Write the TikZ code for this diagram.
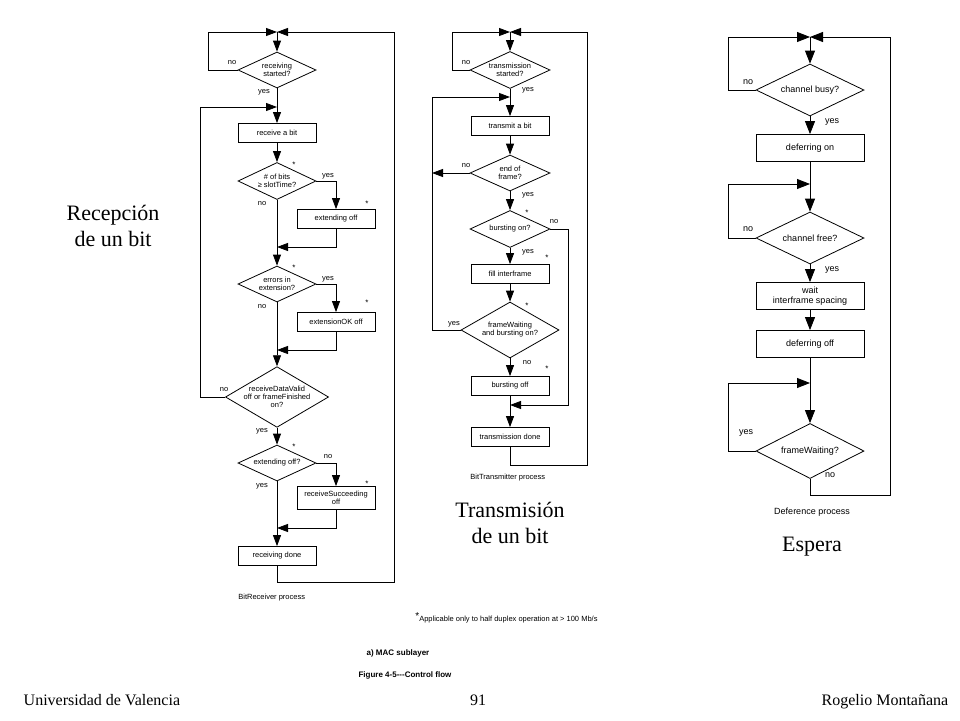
\documentclass[tikz,border=0pt]{standalone}
\usepackage{fontspec}
\setmainfont{Liberation Serif}
\newfontfamily\sans{Liberation Sans}
\usetikzlibrary{shapes.geometric,arrows.meta}
\begin{document}
\begin{tikzpicture}[x=1pt,y=-1pt,line width=0.8pt,
  arr/.style={-{Triangle[length=11pt,width=8pt]}},
  arr3/.style={-{Triangle[length=13pt,width=10pt]}},
  box/.style={draw,rectangle,minimum width=78pt,minimum height=19pt,inner sep=1pt,font=\sans\fontsize{7.5}{8}\selectfont,align=center},
  dia/.style={draw,diamond,inner sep=0pt,aspect=2.2,font=\sans\fontsize{7.5}{8}\selectfont,align=center},
  lab/.style={font=\sans\fontsize{7.5}{8}\selectfont,inner sep=0pt},
  star/.style={font=\sans\fontsize{8}{8}\selectfont,inner sep=0pt},
  box3/.style={box,minimum width=108pt,minimum height=27pt,font=\sans\fontsize{9}{10}\selectfont},
  dia3/.style={draw,diamond,inner sep=0pt,minimum width=108pt,minimum height=52pt,aspect=2.1,font=\sans\fontsize{9}{10}\selectfont},
  lab3/.style={font=\sans\fontsize{9}{10}\selectfont,inner sep=0pt},
  big/.style={font=\fontsize{22}{26}\selectfont,align=center}]
\useasboundingbox (0,0) rectangle (960,720);
% ---------- chart 1 ----------
\coordinate (a1) at (277,32);
\coordinate (a2) at (277,107);
\coordinate (a3) at (277,247);
\coordinate (a4) at (277,350);
\coordinate (a5) at (277,528);
\node[dia,minimum width=78pt,minimum height=36pt] (ad1) at (277,70) {receiving\\started?};
\node[box] (ar1) at (277,133) {receive a bit};
\node[dia,minimum width=78pt,minimum height=37pt] (ad2) at (277,181) {\# of bits\\≥ slotTime?};
\node[box] (ab2) at (336,219) {extending off};
\node[dia,minimum width=78pt,minimum height=36pt] (ad3) at (277,284) {errors in\\extension?};
\node[box] (ab3) at (336,322) {extensionOK off};
\node[dia,minimum width=95pt,minimum height=55pt,aspect=1.7] (ad4) at (277,397) {receiveDataValid\\off or frameFinished\\on?};
\node[dia,minimum width=78pt,minimum height=36pt] (ad5) at (277,463) {extending off?};
\node[box,minimum height=23pt,inner sep=0pt] (ab5) at (336,498) {receiveSucceeding\\off};
\node[box] (ar6) at (277,556) {receiving done};
\draw[arr] (ad1.west) -| (208,32) -- (a1);
\draw[arr] (a1) -- (ad1.north);
\draw (ad1.south) -- (a2);
\draw[arr] (a2) -- (ar1.north);
\draw[arr] (ad4.west) -| (200,107) -- (a2);
\draw[arr] (ar1.south) -- (ad2.north);
\draw[arr] (ad2.east) -| (ab2.north);
\draw (ad2.south) -- (a3);
\draw[arr] (ab2.south) |- (a3);
\draw[arr] (a3) -- (ad3.north);
\draw[arr] (ad3.east) -| (ab3.north);
\draw (ad3.south) -- (a4);
\draw[arr] (ab3.south) |- (a4);
\draw[arr] (a4) -- (ad4.north);
\draw[arr] (ad4.south) -- (ad5.north);
\draw[arr] (ad5.east) -| (ab5.north);
\draw (ad5.south) -- (a5);
\draw[arr] (ab5.south) |- (a5);
\draw[arr] (a5) -- (ar6.north);
\draw[arr] (ar6.south) -- (277,582) -| (394,32) -- (a1);
\node[lab] (al1) at (232,63) {no};
\node[lab] (al2) at (264,92) {yes};
\node[lab] (al3) at (328,176) {yes};
\node[lab] (al4) at (262,204) {no};
\node[lab] (al5) at (328,279) {yes};
\node[lab] (al6) at (262,307) {no};
\node[lab] (al7) at (224,390) {no};
\node[lab] (al8) at (262,431) {yes};
\node[lab] (al9) at (328,457) {no};
\node[lab] (al10) at (262,486) {yes};
\node[star] (as1) at (294,165) {*};
\node[star] (as2) at (367,204) {*};
\node[star] (as3) at (294,268) {*};
\node[star] (as4) at (367,303) {*};
\node[star] (as5) at (294,447) {*};
\node[star] (as6) at (367,484) {*};
\node[lab,anchor=west] (acap) at (238,598) {BitReceiver process};
% ---------- chart 2 ----------
\coordinate (b1) at (510,32);
\coordinate (b2) at (510,97);
\coordinate (b3) at (510,405);
\node[dia,minimum width=80pt,minimum height=37pt] (bd1) at (510,70) {transmission\\started?};
\node[box] (br1) at (510,126) {transmit a bit};
\node[dia,minimum width=80pt,minimum height=36pt] (bd2) at (510,173) {end of\\frame?};
\node[dia,minimum width=80pt,minimum height=37pt] (bd3) at (510,229) {bursting on?};
\node[box] (br2) at (510,274) {fill interframe};
\node[dia,minimum width=98pt,minimum height=56pt,aspect=1.9] (bd4) at (510,330) {frameWaiting\\and bursting on?};
\node[box] (br3) at (510,386) {bursting off};
\node[box] (br4) at (510,437) {transmission done};
\draw[arr] (bd1.west) -| (452,32) -- (b1);
\draw[arr] (b1) -- (bd1.north);
\draw (bd1.south) -- (b2);
\draw[arr] (b2) -- (br1.north);
\draw[arr] (br1.south) -- (bd2.north);
\draw[arr] (bd2.west) -- (432,173);
\draw[arr] (bd2.south) -- (bd3.north);
\draw[arr] (bd3.south) -- (br2.north);
\draw[arr] (br2.south) -- (bd4.north);
\draw[arr] (bd4.west) -| (432,97) -- (b2);
\draw[arr] (bd4.south) -- (br3.north);
\draw[arr] (bd3.east) -| (568,405) -- (b3);
\draw (br3.south) -- (b3);
\draw[arr] (b3) -- (br4.north);
\draw[arr] (br4.south) -- (510,465) -| (587,32) -- (b1);
\node[lab] (bl1) at (466,63) {no};
\node[lab] (bl2) at (528,90) {yes};
\node[lab] (bl3) at (466,166) {no};
\node[lab] (bl4) at (528,195) {yes};
\node[lab] (bl5) at (554,222) {no};
\node[lab] (bl6) at (528,252) {yes};
\node[lab] (bl7) at (454,324) {yes};
\node[lab] (bl8) at (527,363) {no};
\node[star] (bs1) at (527,213) {*};
\node[star] (bs2) at (547,258) {*};
\node[star] (bs3) at (527,306) {*};
\node[star] (bs4) at (547,369) {*};
\node[lab,anchor=west] (bcap) at (470,478) {BitTransmitter process};
% ---------- chart 3 ----------
\coordinate (c1) at (810,37);
\coordinate (c2) at (810,184);
\coordinate (c3) at (810,383);
\node[dia3] (cd1) at (810,90) {channel busy?};
\node[box3] (cr1) at (810,148) {deferring on};
\node[dia3] (cd2) at (810,238) {channel free?};
\node[box3,inner sep=0pt] (cr2) at (810,296) {wait\\interframe spacing};
\node[box3] (cr3) at (810,344) {deferring off};
\node[dia3,minimum height=55pt] (cd3) at (810,451) {frameWaiting?};
\draw[arr3] (cd1.west) -| (728,37) -- (c1);
\draw[arr3] (c1) -- (cd1.north);
\draw[arr3] (cd1.south) -- (cr1.north);
\draw (cr1.south) -- (c2);
\draw[arr3] (c2) -- (cd2.north);
\draw[arr3] (cd2.west) -| (728,184) -- (c2);
\draw[arr3] (cd2.south) -- (cr2.north);
\draw[arr3] (cr2.south) -- (cr3.north);
\draw (cr3.south) -- (c3);
\draw[arr3] (c3) -- (cd3.north);
\draw[arr3] (cd3.west) -| (728,383) -- (c3);
\draw[arr3] (cd3.south) -- (810,495) -| (890,37) -- (c1);
\node[lab3] (cl1) at (748,82) {no};
\node[lab3] (cl2) at (832,122) {yes};
\node[lab3] (cl3) at (748,229) {no};
\node[lab3] (cl4) at (832,270) {yes};
\node[lab3] (cl5) at (746,433) {yes};
\node[lab3] (cl6) at (830,475) {no};
\node[lab3] (ccap) at (812,512) {Deference process};
% ---------- texts ----------
\node[big] (t1) at (113,226) {Recepción\\de un bit};
\node[big] (t2) at (510,523) {Transmisión\\de un bit};
\node[big] (t3) at (812,547) {Espera};
\node[lab,anchor=west] (fn) at (415,618) {\raisebox{2pt}{\fontsize{10}{10}\selectfont*}Applicable only to half duplex operation at > 100 Mb/s};
\node[font=\sans\bfseries\fontsize{8}{9}\selectfont] (sub) at (398,653) {a) MAC sublayer};
\node[font=\sans\bfseries\fontsize{8}{9}\selectfont] (fig) at (405,675) {Figure 4-5---Control flow};
\node[font=\fontsize{16}{18}\selectfont,anchor=base west] (f1) at (20,705) {Universidad de Valencia};
\node[font=\fontsize{16}{18}\selectfont,anchor=base] (f2) at (478,705) {91};
\node[font=\fontsize{16}{18}\selectfont,anchor=base east] (f3) at (952,705) {Rogelio Montañana};
\end{tikzpicture}
\end{document}
